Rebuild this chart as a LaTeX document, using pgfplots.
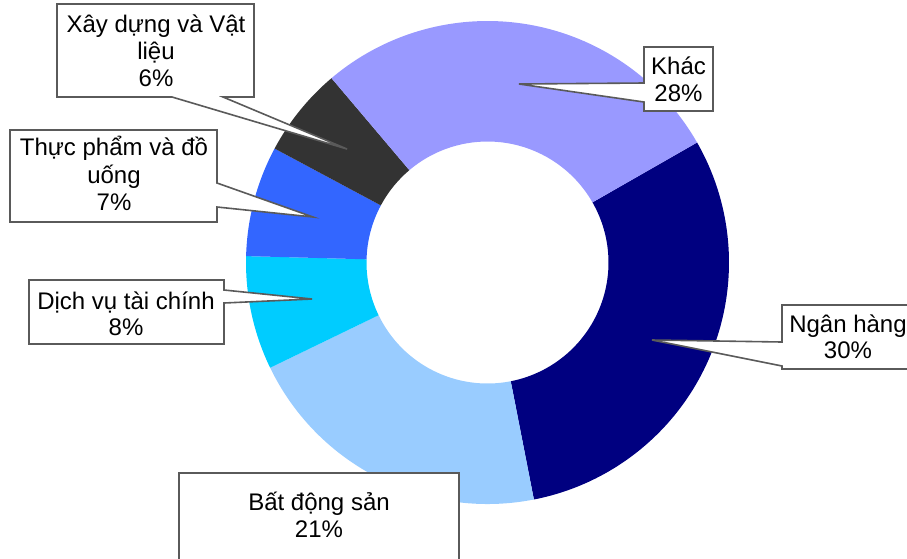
\documentclass[border=0pt]{standalone}
\usepackage{fontspec}
\setmainfont{Liberation Sans}
\usepackage{pgfplots}
\usepackage{pgfplotstable}
\pgfplotsset{compat=1.18}
\definecolor{slice0}{HTML}{000080}
\definecolor{slice1}{HTML}{99CCFF}
\definecolor{slice2}{HTML}{00CCFF}
\definecolor{slice3}{HTML}{3366FF}
\definecolor{slice4}{HTML}{333333}
\definecolor{slice5}{HTML}{9999FF}
\definecolor{callgray}{HTML}{5A5A5A}

% sector shares (%), clockwise from the start angle
\pgfplotstableread{
sector value
NganHang 30.2
BatDongSan 20.9
DichVuTaiChinh 7.6
ThucPham 7.4
XayDung 6.0
Khac 27.9
}\donutdata

\def\startangle{29.8}
\xdef\cumang{\startangle}
\pgfplotstablegetrowsof{\donutdata}
\pgfmathtruncatemacro\nlast{\pgfplotsretval-1}
\foreach \i in {0,...,\nlast}{%
  \pgfplotstablegetelem{\i}{value}\of\donutdata
  \pgfmathsetmacro\slicespan{3.6*\pgfplotsretval}%
  \expandafter\xdef\csname aS\i\endcsname{\cumang}%
  \pgfmathsetmacro\newang{\cumang-\slicespan}%
  \expandafter\xdef\csname aE\i\endcsname{\newang}%
  \xdef\cumang{\newang}%
}

\newcommand\lblfont{\fontsize{24}{28}\selectfont}
\tikzset{lbl/.style={anchor=base, inner sep=0pt, font=\lblfont, text=black},
         callout/.style={fill=white, draw=callgray, line width=1.6pt, line join=miter}}

\begin{document}
\begin{tikzpicture}
\begin{axis}[
  x=1pt, y=1pt,
  xmin=0, xmax=907, ymin=0, ymax=558,
  y dir=reverse,
  hide axis, clip=false,
]
\coordinate (BL) at (axis cs:0,558);
\coordinate (TR) at (axis cs:907,0);
\coordinate (C) at (axis cs:487.5,262.5);
\pgfplotsinvokeforeach{0,...,5}{
  \fill[slice#1]
    ([shift={(\csname aS#1\endcsname:241.5pt)}]C)
    arc[start angle=\csname aS#1\endcsname, end angle=\csname aE#1\endcsname, radius=241.5pt]
    -- ([shift={(\csname aE#1\endcsname:121pt)}]C)
    arc[start angle=\csname aE#1\endcsname, end angle=\csname aS#1\endcsname, radius=121pt]
    -- cycle;
}

% Xây dựng và Vật liệu
\filldraw[callout] (axis cs:57,4) -- (axis cs:254,4) -- (axis cs:254,97) -- (axis cs:223,97)
  -- (axis cs:347,149) -- (axis cs:172,97) -- (axis cs:57,97) -- cycle;
\node[lbl] at (axis cs:156,32) {Xây dựng và Vật};
\node[lbl] at (axis cs:156,59) {liệu};
\node[lbl] at (axis cs:156,86) {6\%};

% Thực phẩm và đồ uống
\filldraw[callout] (axis cs:10,130) -- (axis cs:217,130) -- (axis cs:217,183)
  -- (axis cs:313,217) -- (axis cs:217,207) -- (axis cs:217,222) -- (axis cs:10,222) -- cycle;
\node[lbl] at (axis cs:114,155) {Thực phẩm và đồ};
\node[lbl] at (axis cs:114,183) {uống};
\node[lbl] at (axis cs:114,210) {7\%};

% Dịch vụ tài chính
\filldraw[callout] (axis cs:29,280) -- (axis cs:224,280) -- (axis cs:224,290)
  -- (axis cs:312,299) -- (axis cs:224,303) -- (axis cs:224,344) -- (axis cs:29,344) -- cycle;
\node[lbl] at (axis cs:126,309) {Dịch vụ tài chính};
\node[lbl] at (axis cs:126,335) {8\%};

% Khác
\filldraw[callout] (axis cs:644,47) -- (axis cs:713,47) -- (axis cs:713,111) -- (axis cs:644,111)
  -- (axis cs:644,102) -- (axis cs:519,84) -- (axis cs:644,83) -- cycle;
\node[lbl] at (axis cs:678.5,74) {Khác};
\node[lbl] at (axis cs:678.5,101) {28\%};

% Ngân hàng
\filldraw[callout] (axis cs:782,305) -- (axis cs:914,305) -- (axis cs:914,369) -- (axis cs:782,369)
  -- (axis cs:782,366) -- (axis cs:652,340) -- (axis cs:782,342) -- cycle;
\node[lbl] at (axis cs:848,332) {Ngân hàng};
\node[lbl] at (axis cs:848,358) {30\%};

% Bất động sản
\filldraw[callout] (axis cs:179,473) rectangle (axis cs:459,566);
\node[lbl] at (axis cs:319,510) {Bất động sản};
\node[lbl] at (axis cs:319,537) {21\%};
\end{axis}
\pgfresetboundingbox
\path[use as bounding box] (BL) rectangle (TR);
\end{tikzpicture}
\end{document}
